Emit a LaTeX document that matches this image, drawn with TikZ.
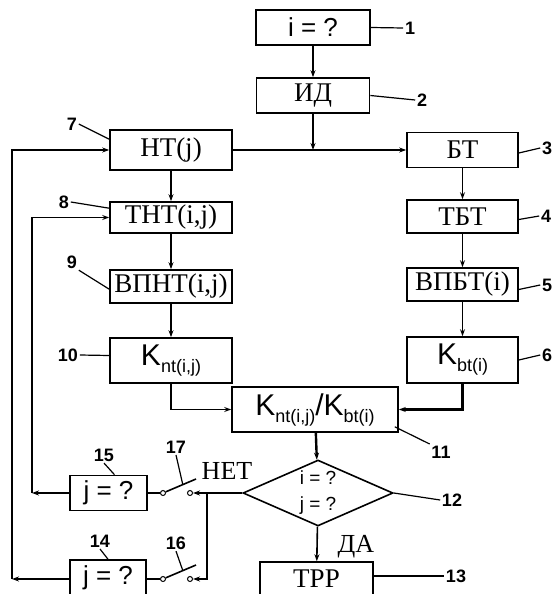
\documentclass[tikz,border=0pt]{standalone}
\usepackage{fontspec}
\setmainfont{Liberation Serif}
\setsansfont{Liberation Sans}
\usetikzlibrary{shapes.geometric, arrows.meta, positioning, calc}
\newcommand{\Kidx}[1]{{\sffamily\fontsize{30}{30}\selectfont K\raisebox{-7pt}{\fontsize{18}{18}\selectfont #1}}}

\begin{document}
\begin{tikzpicture}[x=1pt, y=-1pt, line width=1.6pt,
  box/.style={rectangle, draw, minimum width=122pt, minimum height=33pt, inner sep=0pt, font=\fontsize{27}{29}\selectfont},
  rbox/.style={box, minimum width=111pt},
  qbox/.style={rectangle, draw, minimum width=77pt, minimum height=35pt, inner sep=0pt, font=\sffamily\fontsize{26}{28}\selectfont},
  num/.style={font=\sffamily\bfseries\fontsize{18}{20}\selectfont, inner sep=1pt},
  word/.style={font=\fontsize{26}{28}\selectfont, inner sep=0pt},
  contact/.style={circle, draw, line width=1pt, minimum size=5pt, inner sep=0pt, fill=white},
  lead/.style={line width=1.2pt},
  arr/.style={-{Stealth[length=7pt, width=5pt]}}
]
\useasboundingbox (0,0) rectangle (558,594);
\clip (0,0) rectangle (558,594);
% main column
\node[qbox, minimum width=114pt] (iq) at (313,27.5) {i = ?};
\node[box, minimum width=113pt, minimum height=35pt] (id) at (313,95.5) {ИД};
\node[box, minimum height=40pt] (nt) at (171,150) {НТ(j)};
\node[rbox, minimum height=35pt] (bt) at (462.5,150) {БТ};
\node[box, minimum height=31pt] (tnt) at (171,217.5) {ТНТ(i,j)};
\node[rbox] (tbt) at (462.5,216.5) {ТБТ};
\node[box] (vpnt) at (171,286.5) {ВПНТ(i,j)};
\node[rbox] (vpbt) at (462.5,284.5) {ВПБТ(i)};
\node[box, minimum height=45pt] (knt) at (171,360.5) {\Kidx{nt(i,j)}};
\node[rbox, minimum height=46pt] (kbt) at (462.5,360) {\Kidx{bt(i)}};
\node[box, minimum width=166pt, minimum height=45pt] (ratio) at (315,409.5) {\Kidx{nt(i,j)}{\sffamily\fontsize{30}{30}\selectfont/}\Kidx{bt(i)}};
\node[diamond, draw, aspect=2.3, inner sep=0pt, minimum width=150pt, minimum height=66pt, align=center, font=\sffamily\fontsize{19}{26}\selectfont] (check) at (318,493) {i = ?\\j = ?};
\node[box, minimum width=113pt, minimum height=34pt] (trr) at (316.5,579) {ТРР};
% loop checks
\node[qbox] (jq15) at (108.5,493) {j = ?};
\node[qbox, minimum width=76pt, minimum height=36pt] (jq14) at (108,578) {j = ?};
\node[contact] (c17a) at (163,493) {};
\node[contact] (c17b) at (190,493) {};
\node[contact] (c16a) at (163,579) {};
\node[contact] (c16b) at (190,579) {};
\coordinate (tip17) at (196,479);
\coordinate (tip16) at (196,565);
\coordinate (split) at (id.south |- bt.west);
\coordinate (branch) at (207,493);
\coordinate (inner) at (32,493);
\coordinate (outer) at (12,579);
\node[word] (no) at (227,471) {НЕТ};
\node[word] (yes) at (356,547) {ДА};
% connectors
\draw[arr] (iq) -- (id);
\draw[arr] (id) -- (split);
\draw[arr] (nt.east) -- (bt.west);
\draw[arr] (nt) -- (tnt);
\draw[arr] (tnt) -- (vpnt);
\draw[arr] (vpnt) -- (knt);
\draw[arr] (bt) -- (tbt);
\draw[arr] (tbt) -- (vpbt);
\draw[arr] (vpbt) -- (kbt);
\draw[arr] (knt.south) |- (ratio.west);
\draw[arr, line width=2.4pt] (kbt.south) |- (ratio.east);
\draw[arr, line width=2.4pt] (ratio) -- (check);
\draw[arr] (check) -- (trr);
\draw[arr] (check.west) -- (c17b);
\draw[arr] (branch) |- (c16b);
\draw (jq15.east) -- (c17a);
\draw (jq14.east |- c16a) -- (c16a);
\draw (c17a) -- (tip17);
\draw (c16a) -- (tip16);
\draw[arr] (jq15.west) -- (inner);
\draw[arr] (inner) |- (tnt.west);
\draw[arr] (jq14.west |- outer) -- (outer);
\draw[arr] (outer) |- (nt.west);
% numbers
\node[num] (n1) at (410,28) {1};
\node[num] (n2) at (422,100) {2};
\node[num] (n3) at (547,148) {3};
\node[num] (n4) at (546,216) {4};
\node[num] (n5) at (547,285) {5};
\node[num] (n6) at (547,355) {6};
\node[num] (n7) at (72,124) {7};
\node[num] (n8) at (64,202) {8};
\node[num] (n9) at (72,262) {9};
\node[num] (n10) at (68,355) {10};
\node[num] (n11) at (441,452) {11};
\node[num] (n12) at (452,500) {12};
\node[num] (n13) at (456,576) {13};
\node[num] (n14) at (100,541) {14};
\node[num] (n15) at (104,455) {15};
\node[num] (n16) at (176,543) {16};
\node[num] (n17) at (176,447) {17};
\draw[lead] (iq.east) -- (n1.west);
\draw[lead] (id.east) -- (n2.west);
\draw[lead] ($(bt.east)+(0,3)$) -- (n3.west);
\draw[lead] ($(tbt.east)+(0,3)$) -- (n4.west);
\draw[lead] ($(vpbt.east)+(0,5)$) -- (n5.west);
\draw[lead] (kbt.east) -- (n6.west);
\draw[lead] (n7.east) -- ($(nt.north west)+(0,10)$);
\draw[lead] (n8.east) -- ($(tnt.north west)+(0,7)$);
\draw[lead] (n9.south east) -- ($(vpnt.north west)+(0,20)$);
\draw[lead] (n10.east) -- ($(knt.west)+(0,-5)$);
\draw[lead] ($(ratio.south east)+(-4,-6)$) -- (n11.north west);
\draw[lead] (check.east) -- (n12.west);
\draw[lead] ($(trr.east)+(0,-3)$) -- (n13.west);
\draw[lead] (n14.south) -- (jq14.north);
\draw[lead] (n15.south) -- ($(jq15.north)+(6,0)$);
\draw[lead] (n16.south) -- ($(c16a)!0.6!(tip16)$);
\draw[lead] (n17.south) -- ($(c17a)!0.6!(tip17)$);
\end{tikzpicture}
\end{document}
